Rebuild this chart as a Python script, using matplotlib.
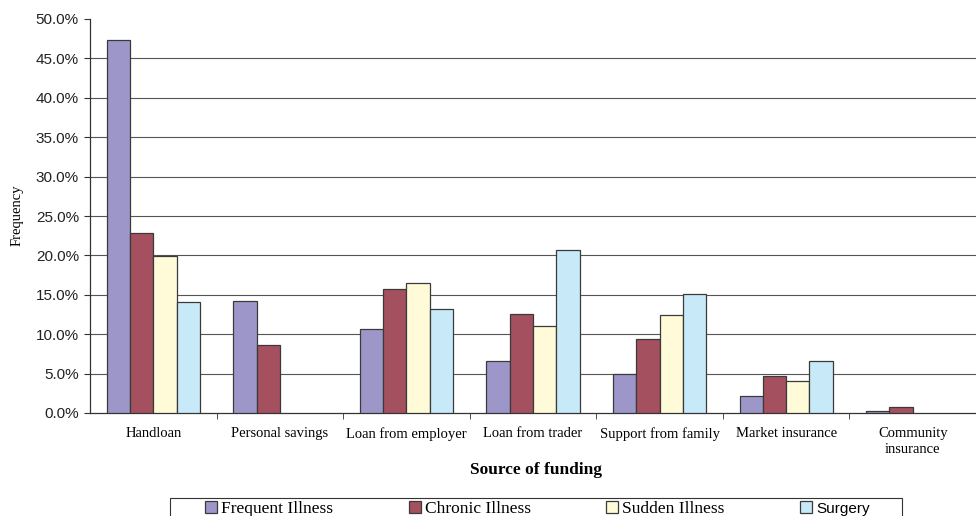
import matplotlib
matplotlib.use("Agg")
import matplotlib.pyplot as plt
import numpy as np
from matplotlib.ticker import FuncFormatter, FixedLocator
from matplotlib.patches import Rectangle

# ---- data (percent) ----
categories = ["Handloan", "Personal savings", "Loan from employer", "Loan from trader",
              "Support from family", "Market insurance", "Community\ninsurance"]
frequent = [47.3, 14.2, 10.7, 6.6, 5.0, 2.2, 0.3]
chronic = [22.8, 8.6, 15.7, 12.6, 9.4, 4.7, 0.8]
sudden = [19.9, 0.0, 16.5, 11.0, 12.4, 4.1, 0.0]
surgery = [14.1, 0.0, 13.2, 20.7, 15.1, 6.6, 0.0]

series = [("Frequent Illness", frequent, "#9D97C9"),
          ("Chronic Illness", chronic, "#A5505E"),
          ("Sudden Illness", sudden, "#FFFBD8"),
          ("Surgery", surgery, "#C7E9F8")]

fig = plt.figure(figsize=(9.76, 5.16), dpi=100)
ax = fig.add_axes([90 / 976, 103 / 516, 886 / 976, 394 / 516])

x = np.arange(len(categories))
w = 0.184
handles = []
for i, (name, vals, col) in enumerate(series):
    vals = np.array(vals)
    off = (i - 1.5) * w
    mask = vals > 0
    b = ax.bar(x[mask] + off, vals[mask], width=w, color=col,
               edgecolor="#3a3a3a", linewidth=0.9, zorder=3, label=name)
    handles.append(b)

ax.set_xlim(-0.5, len(categories) - 0.5)
ax.set_ylim(0, 50)
ax.set_yticks(np.arange(0, 51, 5))
ax.yaxis.set_major_formatter(FuncFormatter(lambda v, p: f"{v:.1f}%"))
ax.grid(axis="y", color="#555555", linewidth=0.8, zorder=0)
ax.yaxis.get_gridlines()[-1].set_visible(False)
ax.yaxis.get_gridlines()[0].set_visible(False)

ax.set_xticks(x)
ax.set_xticklabels(categories, family="Liberation Serif", fontsize=10.5,
                   linespacing=1.3)
ax.tick_params(axis="x", length=0, pad=10)
ax.xaxis.set_minor_locator(FixedLocator(np.arange(0.5, len(categories) - 0.5, 1)))
ax.tick_params(axis="x", which="minor", length=4, direction="out", color="#333333")
ax.tick_params(axis="y", length=4, direction="out", color="#333333", pad=4)
for lbl in ax.get_yticklabels():
    lbl.set_family("Liberation Sans")
    lbl.set_fontsize(11)
    lbl.set_color("#222222")

for s in ["top", "right"]:
    ax.spines[s].set_visible(False)
for s in ["left", "bottom"]:
    ax.spines[s].set_color("#333333")
    ax.spines[s].set_linewidth(0.9)

fig.text(17 / 976, (516 - 215) / 516, "Frequency", family="Liberation Serif",
         fontsize=10.5, rotation=90, ha="center", va="center")
fig.text(536 / 976, (516 - 470) / 516, "Source of funding", family="Liberation Serif",
         fontsize=12.5, fontweight="bold", ha="center", va="center")

# legend box (cut off by the bottom edge, as in the source)
fig.patches.append(Rectangle((170 / 976, -0.05), 732 / 976, 0.05 + 18 / 516,
                             transform=fig.transFigure, fill=False,
                             edgecolor="#333333", linewidth=0.8))
leg = fig.legend(handles=handles, loc="center left", ncol=4, mode="expand",
                 bbox_to_anchor=(205 / 976, (516 - 509) / 516, 665 / 976, 0),
                 borderaxespad=0, frameon=False,
                 handlelength=0.7, handleheight=0.7, handletextpad=0.25,
                 prop={"family": "Liberation Serif", "size": 12.5},
                 borderpad=0)
leg.get_texts()[3].set_family("Liberation Sans")
leg.get_texts()[3].set_fontsize(11)

fig.savefig("out.png", dpi=100)
